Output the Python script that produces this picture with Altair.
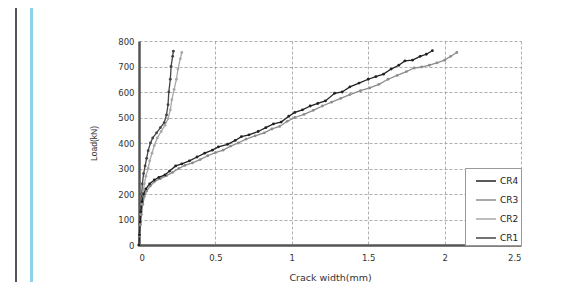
import altair as alt
import pandas as pd

# ---- data ----
series_names = ["CR4", "CR3", "CR2", "CR1"]

cr1_x = [0, 0.003, 0.006, 0.01, 0.013, 0.018, 0.022, 0.03, 0.04, 0.05, 0.06, 0.075,
         0.09, 0.115, 0.14, 0.165, 0.18, 0.19, 0.195, 0.205, 0.21, 0.22, 0.225]
cr1_y = [0, 40, 80, 120, 160, 200, 240, 280, 310, 340, 370, 400,
         420, 440, 460, 480, 510, 550, 600, 650, 700, 740, 760]

cr2_x = [0, 0.004, 0.008, 0.012, 0.018, 0.025, 0.035, 0.045, 0.06, 0.07, 0.085, 0.1,
         0.12, 0.145, 0.17, 0.19, 0.205, 0.215, 0.23, 0.245, 0.255, 0.27, 0.28]
cr2_y = [0, 40, 80, 120, 160, 200, 240, 270, 300, 330, 360, 390,
         420, 445, 470, 495, 530, 570, 610, 650, 690, 730, 755]

cr3_x = [0, 0.004, 0.01, 0.016, 0.025, 0.035, 0.05, 0.075, 0.1, 0.14, 0.18, 0.22,
         0.26, 0.3, 0.35, 0.4, 0.45, 0.5, 0.55, 0.6, 0.65, 0.7, 0.76, 0.82, 0.87,
         0.92, 0.97, 1.02, 1.08, 1.14, 1.2, 1.26, 1.32, 1.38, 1.45, 1.51, 1.57,
         1.63, 1.69, 1.75, 1.8, 1.85, 1.9, 1.95, 2.0, 2.04, 2.08]
cr3_y = [0, 35, 80, 120, 160, 190, 212, 232, 248, 260, 272, 285,
         300, 312, 322, 335, 350, 362, 372, 388, 400, 415, 428, 440, 455,
         465, 485, 500, 512, 528, 545, 560, 575, 590, 605, 616, 630,
         650, 665, 680, 694, 698, 705, 714, 725, 740, 755]

cr4_x = [0, 0.003, 0.008, 0.012, 0.02, 0.03, 0.045, 0.07, 0.1, 0.13, 0.17, 0.2,
         0.24, 0.28, 0.33, 0.38, 0.43, 0.48, 0.52, 0.58, 0.63, 0.67, 0.72, 0.78,
         0.83, 0.88, 0.93, 0.98, 1.02, 1.07, 1.12, 1.17, 1.22, 1.28, 1.33, 1.38,
         1.44, 1.5, 1.55, 1.6, 1.65, 1.7, 1.74, 1.79, 1.84, 1.88, 1.92]
cr4_y = [0, 40, 90, 130, 170, 200, 220, 240, 255, 265, 275, 290,
         310, 318, 330, 345, 360, 372, 385, 395, 410, 425, 432, 445,
         460, 475, 482, 505, 520, 530, 545, 555, 565, 595, 600, 620,
         635, 650, 660, 670, 690, 705, 722, 725, 740, 748, 762]

x_ticks = [0, 0.5, 1, 1.5, 2, 2.5]
y_ticks = [0, 100, 200, 300, 400, 500, 600, 700, 800]

rows = []
for name, xs, ys in [("CR1", cr1_x, cr1_y), ("CR2", cr2_x, cr2_y),
                     ("CR3", cr3_x, cr3_y), ("CR4", cr4_x, cr4_y)]:
    for i, (xv, yv) in enumerate(zip(xs, ys)):
        rows.append({"series": name, "i": i, "width": xv, "load": yv})
df = pd.DataFrame(rows)

FONT = "DejaVu Sans"

color_scale = alt.Scale(domain=series_names,
                        range=["#222222", "#8c8c8c", "#a8a8a8", "#444444"])

lines = alt.Chart(df).mark_line(
    strokeWidth=1.3,
    point=alt.OverlayMarkDef(size=8, filled=True),
).encode(
    x=alt.X("width:Q", title="Crack width(mm)",
            scale=alt.Scale(domain=[0, 2.5], nice=False),
            axis=alt.Axis(values=x_ticks, format="~g", labelPadding=8,
                          titlePadding=11, titleFontSize=9.5)),
    y=alt.Y("load:Q", title="Load(kN)",
            scale=alt.Scale(domain=[0, 800], nice=False),
            axis=alt.Axis(values=y_ticks, labelPadding=5, titlePadding=19,
                          titleFont="Liberation Sans", titleFontSize=8.5)),
    color=alt.Color("series:N", scale=color_scale, title=None,
                    legend=alt.Legend(orient="none", legendX=326, legendY=127,
                                      symbolType="stroke", symbolSize=400,
                                      symbolStrokeWidth=1.5,
                                      fillColor="white", strokeColor="#999999",
                                      padding=2, rowPadding=3, labelOffset=3,
                                      labelFontSize=9, labelFont=FONT,
                                      labelColor="#222222", symbolOffset=8)),
    order=alt.Order("i:Q"),
)

# page decoration lines on the left (frame of the original figure)
frame_dark = alt.Chart(df).mark_rule(color="#555555", strokeWidth=1.5).encode(
    x=alt.value(-123), y=alt.value(-40), y2=alt.value(260))
frame_blue = alt.Chart(df).mark_rule(color="#8dd3e8", strokeWidth=2.5).encode(
    x=alt.value(-107.5), y=alt.value(-40), y2=alt.value(260))

chart = alt.layer(frame_dark, frame_blue, lines).properties(
    width=382, height=204,
    autosize=alt.AutoSizeParams(type="none"),
    padding={"left": 131, "top": 33, "right": 40, "bottom": 37},
).configure_view(stroke=None).configure_axis(
    labelFont=FONT, titleFont=FONT, labelFontSize=8.5, titleFontSize=9,
    labelColor="#333333", titleColor="#333333", titleFontWeight="normal",
    gridDash=[3, 2], gridColor="#9a9a9a", gridWidth=0.8,
    domainColor="#555555", domainWidth=2.5, tickSize=0,
)

chart.save("out.html", embed_options={"renderer": "svg", "actions": False})
